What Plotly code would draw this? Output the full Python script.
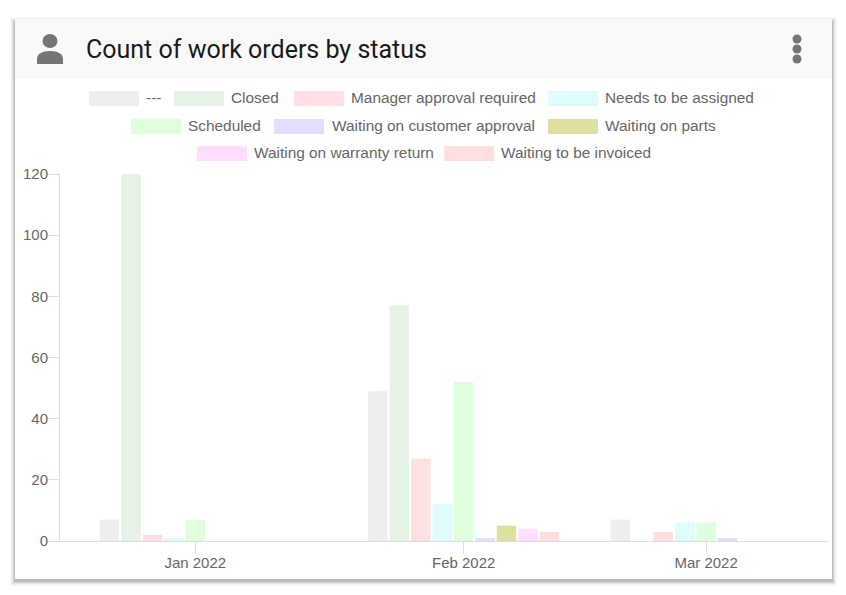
import plotly.graph_objects as go

months = ["2022-01-01", "2022-02-01", "2022-03-01"]
statuses = ["---", "Closed", "Manager approval required", "Needs to be assigned", "Scheduled",
            "Waiting on customer approval", "Waiting on parts", "Waiting on warranty return",
            "Waiting to be invoiced"]
blank = [7, 49, 7]
closed = [120, 77, 0]
manager_approval = [2, 27, 3]
needs_assigned = [1, 12, 6]
scheduled = [7, 52, 6]
customer_approval = [0, 1, 1]
waiting_parts = [0, 5, 0]
warranty_return = [0, 4, 0]
to_be_invoiced = [0, 3, 0]
series = [blank, closed, manager_approval, needs_assigned, scheduled, customer_approval,
          waiting_parts, warranty_return, to_be_invoiced]
y_ticks = [0, 20, 40, 60, 80, 100, 120]

colors = ["#eeeeee", "#e6f2e6", "#ffdfdf", "#dffcfc", "#dfffdf", "#dfdfff", "#dfdfa0", "#ffdfff", "#ffdfdf"]
GREY = "#666666"
ICON = "#757575"
SANS = "Liberation Sans"

W, H = 846, 595
L, R, T, B = 60, 828, 174, 541


# page pixels to paper coords, the card furniture is laid out in pixels
def px(x):
    return (x - L) / (R - L)


def py(y):
    return (B - y) / (B - T)


fig = go.Figure()
for name, vals, col in zip(statuses, series, colors):
    fig.add_trace(go.Bar(x=months, y=vals, name=name, marker_color=col, marker_line_width=0))

shapes = []
# card shadow, outermost ring first
shadow_alpha = [0.008, 0.015, 0.03, 0.05, 0.07, 0.1]
for i, alpha in zip(range(6, 0, -1), shadow_alpha):
    shapes.append(dict(type="rect", xref="paper", yref="paper", layer="below", line_width=0,
                       x0=px(15 - i), x1=px(832 + i), y0=py(19 + 3 - i), y1=py(579 + 2 + i),
                       fillcolor=f"rgba(0,0,0,{alpha})"))
shapes.append(dict(type="rect", xref="paper", yref="paper", layer="below", line_width=0,
                   x0=px(15), x1=px(832), y0=py(19), y1=py(579), fillcolor="white"))
shapes.append(dict(type="rect", xref="paper", yref="paper", layer="below", line_width=0,
                   x0=px(15), x1=px(832), y0=py(19), y1=py(79), fillcolor="#f9f9f9"))

# person icon
shapes.append(dict(type="circle", xref="paper", yref="paper", line_width=0, fillcolor=ICON,
                   x0=px(42.5), x1=px(57.5), y0=py(34), y1=py(48)))
shapes.append(dict(type="path", xref="paper", yref="paper", line_width=0, fillcolor=ICON,
                   path=f"M {px(37)} {py(64)} L {px(37)} {py(59)} "
                        f"C {px(37)} {py(54)} {px(42)} {py(51)} {px(50)} {py(51)} "
                        f"C {px(58)} {py(51)} {px(63)} {py(54)} {px(63)} {py(59)} "
                        f"L {px(63)} {py(64)} Z"))
# menu dots
for cy in [39, 49, 59]:
    shapes.append(dict(type="circle", xref="paper", yref="paper", line_width=0, fillcolor=ICON,
                       x0=px(792.5), x1=px(801.5), y0=py(cy - 4.5), y1=py(cy + 4.5)))

annotations = [dict(xref="paper", yref="paper", x=px(85.5), y=py(50), xanchor="left", yanchor="middle",
                    text="Count of work orders by status", showarrow=False, borderpad=0, borderwidth=0,
                    font=dict(family="Roboto", size=25, color="#1a1a1a"))]

# legend is three centred rows with wide swatches, plotly's own can't do that
legend_swatch_x = [89, 174, 294, 548, 131, 274, 548, 197, 444]
legend_text_x = [146, 231, 351, 605, 188, 332, 605, 254, 501]
legend_row_y = [98.5, 98.5, 98.5, 98.5, 126.5, 126.5, 126.5, 153.5, 153.5]
legend_text_y = [97.3, 97.3, 97.3, 97.3, 125.3, 125.3, 125.3, 152.6, 152.6]
for name, col, sx, tx, ry, ty in zip(statuses, colors, legend_swatch_x, legend_text_x, legend_row_y, legend_text_y):
    shapes.append(dict(type="rect", xref="paper", yref="paper", line_width=0, fillcolor=col,
                       x0=px(sx), x1=px(sx + 50), y0=py(ry - 7.5), y1=py(ry + 7.5)))
    annotations.append(dict(xref="paper", yref="paper", x=px(tx), y=py(ty), xanchor="left", yanchor="middle",
                            text=name, showarrow=False, borderpad=0, borderwidth=0,
                            font=dict(family=SANS, size=15.4, color=GREY)))

fig.update_layout(
    width=W, height=H,
    margin=dict(l=L, r=W - R, t=T, b=H - B, pad=0),
    paper_bgcolor="white", plot_bgcolor="rgba(0,0,0,0)",
    barmode="group", bargap=0.204, bargroupgap=0.09,
    showlegend=False,
    shapes=shapes, annotations=annotations,
    font=dict(family=SANS, size=14, color=GREY),
    xaxis=dict(type="date", range=["2021-12-16 09:00", "2022-03-15 02:00"],
               tickvals=months, tickformat="%b %Y", ticks="outside", ticklen=12, tickwidth=1,
               tickcolor="#dddddd", showgrid=False, zeroline=False,
               showline=True, linecolor="#dddddd", linewidth=1, ticklabelstandoff=-4,
               tickfont=dict(family=SANS, size=15, color=GREY)),
    yaxis=dict(range=[0, 120], tickvals=y_ticks, ticks="outside", ticklen=11, tickwidth=1,
               tickcolor="#dddddd", showgrid=False, zeroline=False,
               showline=True, linecolor="#dddddd", linewidth=1, ticklabelstandoff=-3,
               tickfont=dict(family=SANS, size=15, color=GREY)),
)

fig.write_html("out.html", config=dict(displayModeBar=False),
               post_script="document.body.style.margin='0';")
